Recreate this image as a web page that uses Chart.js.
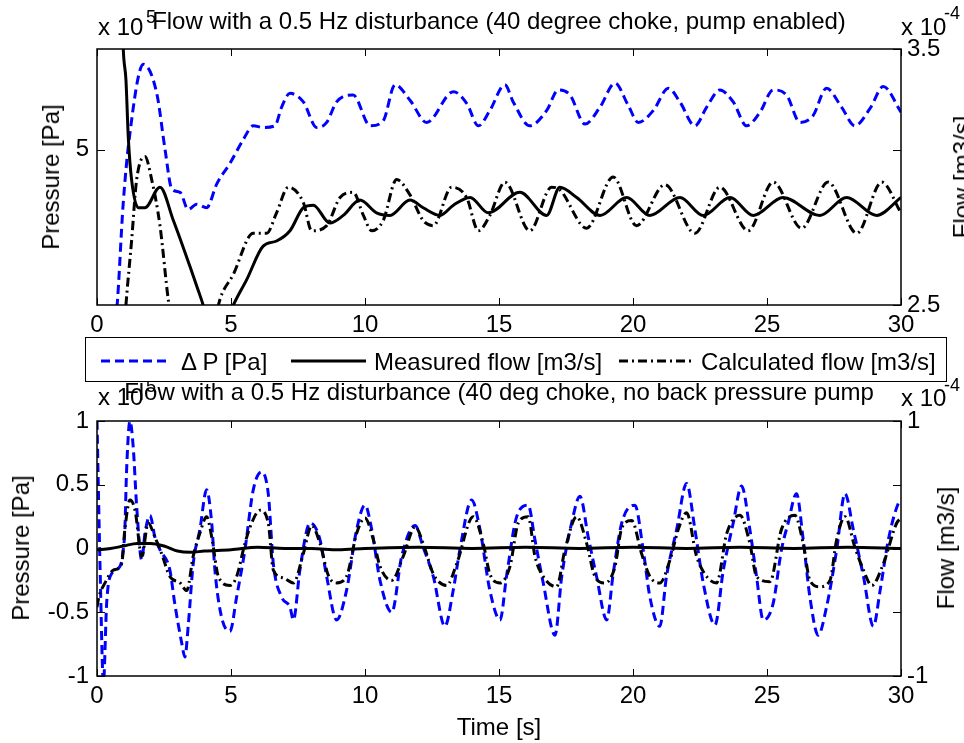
<!DOCTYPE html>
<html>
<head>
<meta charset="utf-8">
<script src="https://cdn.jsdelivr.net/npm/chart.js@4.4.1/dist/chart.umd.min.js"></script>
<style>
  html, body { margin: 0; padding: 0; background: #fff; }
  #wrap { position: relative; width: 964px; height: 743px; overflow: hidden; background: #fff;
          font-family: 'Liberation Sans', Arial, sans-serif; color: #000; }
  canvas { position: absolute; left: 0; }
  .txt { position: absolute; white-space: nowrap; font-size: 24px; line-height: 24px; }
  .sup { position: absolute; white-space: nowrap; font-size: 18px; line-height: 18px; }
  .rot { position: absolute; white-space: nowrap; font-size: 24px; line-height: 24px;
         transform: translate(-50%, -50%) rotate(-90deg); }
  #legend { position: absolute; left: 85px; top: 337px; width: 860px; height: 43px;
            border: 1px solid #000; background: #fff; z-index: 5; }
</style>
</head>
<body>
<div id="wrap">
  <canvas id="topChart" width="964" height="370" style="top:0"></canvas>
  <canvas id="botChart" width="964" height="373" style="top:370px"></canvas>

  <!-- top subplot texts -->
  <div class="txt" style="left:97px;width:804px;top:9px;text-align:center">Flow with a 0.5 Hz disturbance (40 degree choke, pump enabled)</div>
  <div class="txt" style="left:98px;top:15px">x 10</div>
  <div class="sup" style="left:146px;top:8px">5</div>
  <div class="txt" style="left:901px;top:15px">x 10</div>
  <div class="sup" style="left:944px;top:4px">-4</div>
  <div class="rot" style="left:51px;top:177px">Pressure [Pa]</div>
  <div class="rot" style="left:962px;top:177px">Flow [m3/s]</div>

  <!-- bottom subplot texts -->
  <div class="txt" style="left:97px;width:804px;top:380px;text-align:center">Flow with a 0.5 Hz disturbance (40 deg choke, no back pressure pump</div>
  <div class="txt" style="left:98px;top:385px">x 10</div>
  <div class="sup" style="left:146px;top:377px">5</div>
  <div class="txt" style="left:901px;top:386px">x 10</div>
  <div class="sup" style="left:944px;top:376px">-4</div>
  <div class="rot" style="left:21px;top:548px">Pressure [Pa]</div>
  <div class="rot" style="left:946px;top:548px">Flow [m3/s]</div>
  <div class="txt" style="left:97px;width:804px;top:715px;text-align:center">Time [s]</div>

  <div id="legend">
    <svg width="860" height="43" style="position:absolute;left:0;top:0">
      <line x1="15" y1="23" x2="83" y2="23" stroke="#0000ff" stroke-width="3" stroke-dasharray="9 5"/>
      <line x1="205" y1="23" x2="280" y2="23" stroke="#000" stroke-width="3"/>
      <line x1="533" y1="23" x2="605" y2="23" stroke="#000" stroke-width="3" stroke-dasharray="9 4 2 4"/>
    </svg>
    <div class="txt" style="left:95px;top:12px">&Delta; P [Pa]</div>
    <div class="txt" style="left:288px;top:12px">Measured flow [m3/s]</div>
    <div class="txt" style="left:615px;top:12px">Calculated flow [m3/s]</div>
  </div>
</div>

<script>
// Axis ticks
const xTicks = [0, 5, 10, 15, 20, 25, 30];
const topLeftTicks = [5];
const topRightTicks = [2.5, 3.5];
const botLeftTicks = [-1, -0.5, 0, 0.5, 1];
const botRightTicks = [-1, 1];

// Top subplot: pump enabled (pressure x1e5 Pa, flow x1e-4 m3/s)
const topDpTime = [0, 0.73, 0.98, 1.2, 1.73, 2.23, 2.54, 2.79, 3.1, 3.4, 3.72, 4.09, 4.47, 4.96, 5.46, 5.83, 6.2, 6.64, 6.89, 7.2,
    7.7, 8.2, 8.57, 8.94, 9.56, 10.19, 10.68, 11.12, 11.68, 12.3, 13.3, 13.8, 14.23, 14.66, 15.22, 15.53, 16.15, 16.78, 17.21, 17.65,
    18.21, 18.77, 19.33, 19.82, 20.2, 20.76, 21.32, 21.75, 22.31, 22.75, 23.24, 23.74, 24.24, 24.74, 25.23, 25.73, 26.23, 26.72, 27.22, 27.78,
    28.28, 28.84, 29.34, 30];
const topDp = [3.6, 4.05, 4.69, 5.06, 5.50, 5.33, 5.00, 4.77, 4.75, 4.65, 4.68, 4.66, 4.80, 4.92, 5.06, 5.14, 5.13, 5.14, 5.25, 5.33,
    5.28, 5.13, 5.16, 5.28, 5.32, 5.14, 5.17, 5.38, 5.29, 5.16, 5.34, 5.27, 5.14, 5.23, 5.38, 5.28, 5.14, 5.23, 5.35, 5.32,
    5.15, 5.25, 5.39, 5.26, 5.16, 5.23, 5.36, 5.28, 5.14, 5.25, 5.35, 5.28, 5.14, 5.22, 5.35, 5.32, 5.16, 5.20, 5.36, 5.25,
    5.14, 5.24, 5.37, 5.22];

const topMeasTime = [0, 0.9, 0.98, 1.08, 1.17, 1.29, 1.54, 1.79, 2.35, 2.85, 3.47, 3.9, 4.3, 4.7, 5.09, 5.59, 6.2, 6.7, 7.2, 7.7,
    8.07, 8.69, 9.19, 9.81, 10.43, 10.93, 11.68, 12.17, 12.8, 13.3, 13.92, 14.6, 15.78, 16.78, 17.27, 17.9, 18.77, 19.76, 20.63, 21.75,
    22.62, 23.62, 24.49, 25.6, 26.97, 27.97, 29.09, 30];
const topMeas = [4.2, 3.8, 3.50, 3.38, 3.15, 2.99, 2.88, 2.88, 2.96, 2.83, 2.65, 2.52, 2.4, 2.4, 2.5, 2.60, 2.73, 2.75, 2.79, 2.88,
    2.89, 2.82, 2.85, 2.91, 2.86, 2.85, 2.91, 2.88, 2.85, 2.89, 2.92, 2.86, 2.94, 2.85, 2.96, 2.92, 2.85, 2.92, 2.85, 2.92,
    2.85, 2.92, 2.85, 2.92, 2.85, 2.92, 2.85, 2.92];

const topCalcTime = [0, 0.95, 1.08, 1.29, 1.48, 1.79, 2.04, 2.35, 2.66, 3.0, 4.2, 4.53, 5.09, 5.83, 6.33, 6.7, 7.14, 7.7, 8.01, 8.57,
    9.07, 9.56, 9.94, 10.25, 10.68, 11.18, 11.68, 12.17, 12.55, 13.23, 13.79, 14.23, 14.66, 15.22, 16.15, 16.96, 17.27, 18.27, 19.26, 20.13,
    21.19, 22.31, 23.24, 24.3, 25.23, 26.29, 27.28, 28.35, 29.28, 30];
const topCalc = [2.0, 2.3, 2.5, 2.75, 2.99, 3.08, 2.99, 2.81, 2.52, 2.3, 2.3, 2.5, 2.62, 2.78, 2.78, 2.86, 2.96, 2.90, 2.79, 2.81,
    2.92, 2.94, 2.85, 2.79, 2.83, 2.99, 2.93, 2.83, 2.81, 2.96, 2.92, 2.79, 2.85, 2.98, 2.79, 2.96, 2.95, 2.80, 3.00, 2.81,
    2.97, 2.78, 2.96, 2.79, 2.98, 2.80, 2.98, 2.78, 2.98, 2.86];

// Bottom subplot: no back pressure pump
const botDpTime = [0, 0.12, 0.24, 0.36, 0.49, 0.86, 0.98, 1.04, 1.1, 1.23, 1.35, 1.48, 1.67, 1.79, 1.98, 2.16, 2.35, 2.72, 2.9, 3.16,
    3.28, 3.41, 3.59, 3.84, 4.09, 4.28, 4.4, 4.65, 4.96, 5.21, 5.52, 5.83, 6.14, 6.39, 6.58, 6.89, 7.2, 7.33, 7.57, 7.95,
    8.32, 8.57, 8.94, 9.31, 9.69, 10.0, 10.25, 10.56, 11.0, 11.37, 11.87, 12.17, 12.55, 12.98, 13.29, 13.54, 13.98, 14.29, 14.66, 15.04,
    15.28, 15.66, 16.09, 16.34, 16.65, 17.09, 17.34, 17.71, 18.02, 18.33, 18.64, 19.02, 19.26, 19.58, 20.07, 20.38, 20.63, 21.0, 21.25, 21.63,
    22.0, 22.31, 22.62, 23.06, 23.37, 23.74, 24.05, 24.36, 24.61, 24.86, 25.23, 25.54, 25.79, 26.1, 26.35, 26.6, 26.91, 27.22, 27.6, 27.91,
    28.22, 28.6, 28.97, 29.22, 29.53, 29.91, 30];
const botDp = [1.0, -0.2, -1.05, -0.43, -0.22, -0.14, -0.01, 0.15, 0.59, 1.0, 0.80, 0.33, -0.09, 0.12, 0.26, 0.09, -0.01, -0.17, -0.43, -0.74,
    -0.85, -0.59, -0.12, 0.15, 0.46, 0.20, -0.17, -0.54, -0.65, -0.38, -0.01, 0.46, 0.60, 0.43, -0.12, -0.38, -0.46, -0.56, -0.17, 0.20,
    0.07, -0.22, -0.56, -0.33, 0.15, 0.34, 0.15, -0.25, -0.50, -0.06, 0.18, 0.01, -0.22, -0.61, -0.33, -0.01, 0.38, 0.15, -0.33, -0.56,
    -0.22, 0.25, 0.34, 0.07, -0.27, -0.68, -0.22, 0.20, 0.41, 0.09, -0.22, -0.56, -0.20, 0.20, 0.34, -0.01, -0.38, -0.61, -0.22, 0.15,
    0.51, 0.15, -0.27, -0.60, -0.17, 0.20, 0.49, 0.15, -0.22, -0.56, -0.43, -0.01, 0.20, 0.43, 0.07, -0.38, -0.68, -0.46, -0.01, 0.43,
    0.15, -0.22, -0.61, -0.33, 0.07, 0.36, 0.38];

const botMeasTime = [0, 0.5, 1.0, 1.5, 2.0, 2.5, 3.0, 3.5, 4.0, 5.0, 6.0, 7.0, 8.0, 9.0, 10.0, 12.0, 14.0, 16.0, 18.0, 20.0,
    22.0, 24.0, 26.0, 28.0, 30.0];
const botMeas = [-0.01, 0.0, 0.02, 0.04, 0.04, 0.02, -0.02, -0.03, -0.02, -0.01, 0.01, 0.0, 0.0, -0.01, 0.0, 0.01, 0.0, 0.01, 0.0, 0.01,
    0.0, 0.01, 0.0, 0.01, 0.0];

const botCalcTime = [0, 0.07, 0.3, 0.61, 0.92, 1.04, 1.23, 1.42, 1.67, 1.91, 2.16, 2.41, 2.72, 3.1, 3.35, 3.59, 3.84, 4.09, 4.28, 4.53,
    4.96, 5.21, 5.52, 5.77, 6.08, 6.39, 6.58, 6.95, 7.33, 7.7, 8.01, 8.32, 8.63, 8.94, 9.31, 9.69, 10.0, 10.31, 10.56, 11.0,
    11.43, 11.87, 12.17, 12.55, 13.05, 13.42, 14.04, 14.41, 14.66, 15.04, 15.41, 15.72, 16.09, 16.34, 16.65, 17.15, 17.46, 17.9, 18.27, 18.58,
    18.96, 19.33, 19.58, 19.95, 20.32, 20.63, 21.0, 21.38, 21.69, 22.0, 22.37, 22.75, 23.12, 23.5, 23.99, 24.36, 24.61, 25.11, 25.54, 26.04,
    26.35, 26.6, 26.97, 27.35, 27.6, 27.91, 28.28, 28.6, 28.91, 29.34, 29.84, 30];
const botCalc = [-0.46, -0.38, -0.27, -0.17, -0.12, 0.15, 0.38, 0.30, -0.06, 0.20, 0.09, -0.04, -0.22, -0.27, -0.33, -0.06, 0.12, 0.25, 0.09, -0.22,
    -0.29, -0.22, 0.04, 0.20, 0.30, 0.20, -0.17, -0.23, -0.27, -0.04, 0.18, 0.04, -0.21, -0.27, -0.22, 0.12, 0.24, 0.07, -0.14, -0.25,
    -0.06, 0.17, 0.04, -0.20, -0.29, -0.12, 0.25, 0.04, -0.20, -0.27, -0.14, 0.20, 0.25, -0.06, -0.22, -0.30, -0.01, 0.25, 0.04, -0.22,
    -0.27, -0.14, 0.16, 0.22, -0.04, -0.22, -0.27, -0.09, 0.15, 0.28, -0.06, -0.22, -0.27, 0.12, 0.26, 0.04, -0.22, -0.26, 0.15, 0.26,
    0.04, -0.25, -0.30, -0.25, 0.07, 0.25, 0.01, -0.17, -0.29, -0.12, 0.20, 0.24];

const FONT = { family: "'Liberation Sans', Arial, sans-serif", size: 24 };

function pairs(xs, ys) {
    return xs.map((x, i) => ({ x: x, y: ys[i] }));
}

// Box round the axes with MATLAB style inward ticks
const matlabAxes = {
    id: 'matlabAxes',
    afterDatasetsDraw(chart) {
        const { ctx, chartArea: a, scales } = chart;
        ctx.save();
        ctx.strokeStyle = '#000';
        ctx.lineWidth = 1;
        ctx.beginPath();
        scales.x.ticks.forEach(t => {
            const px = Math.round(scales.x.getPixelForValue(t.value)) + 0.5;
            ctx.moveTo(px, a.bottom); ctx.lineTo(px, a.bottom - 7);
            ctx.moveTo(px, a.top); ctx.lineTo(px, a.top + 7);
        });
        scales.y.ticks.forEach(t => {
            const py = Math.round(scales.y.getPixelForValue(t.value)) + 0.5;
            ctx.moveTo(a.left, py); ctx.lineTo(a.left + 8, py);
            ctx.moveTo(a.right, py); ctx.lineTo(a.right - 8, py);
        });
        scales.y1.ticks.forEach(t => {
            const py = Math.round(scales.y1.getPixelForValue(t.value)) + 0.5;
            ctx.moveTo(a.right, py); ctx.lineTo(a.right - 8, py);
        });
        ctx.stroke();
        ctx.lineWidth = 1.5;
        ctx.strokeRect(a.left, a.top, a.right - a.left, a.bottom - a.top);
        ctx.restore();
    }
};

function makeChart(id, opts) {
    const ctx = document.getElementById(id).getContext('2d');
    return new Chart(ctx, {
        type: 'line',
        data: {
            datasets: [{
                label: 'Measured flow [m3/s]',
                data: opts.meas,
                yAxisID: 'y1',
                borderColor: '#000000',
                borderWidth: 3,
                order: 1
            }, {
                label: 'Calculated flow [m3/s]',
                data: opts.calc,
                yAxisID: 'y1',
                borderColor: '#000000',
                borderWidth: 3,
                borderDash: [9, 4, 2, 4],
                order: 2
            }, {
                label: '\u0394 P [Pa]',
                data: opts.dp,
                yAxisID: 'y',
                borderColor: '#0000ff',
                borderWidth: 3,
                borderDash: [9, 5],
                order: 3
            }]
        },
        options: {
            responsive: false,
            animation: false,
            devicePixelRatio: 1,
            events: [],
            elements: {
                point: { radius: 0 },
                line: { cubicInterpolationMode: 'monotone', fill: false }
            },
            layout: { padding: { top: opts.padTop, left: 0, right: 0, bottom: 0 } },
            plugins: { legend: { display: false }, tooltip: { enabled: false } },
            scales: {
                x: {
                    type: 'linear', min: 0, max: 30,
                    grid: { display: false, drawTicks: false },
                    border: { display: false },
                    afterBuildTicks: s => { s.ticks = xTicks.map(v => ({ value: v })); },
                    afterFit: s => { s.height = opts.xHeight; },
                    ticks: { font: FONT, color: '#000', padding: 6, maxRotation: 0, autoSkip: false }
                },
                y: {
                    type: 'linear', position: 'left', min: opts.yMin, max: opts.yMax,
                    grid: { display: false, drawTicks: false },
                    border: { display: false },
                    afterBuildTicks: s => { s.ticks = opts.yTicks.map(v => ({ value: v })); },
                    afterFit: s => { s.width = 97; },
                    ticks: { font: FONT, color: '#000', padding: 8, callback: v => String(v) }
                },
                y1: {
                    type: 'linear', position: 'right', min: opts.y1Min, max: opts.y1Max,
                    grid: { display: false, drawTicks: false },
                    border: { display: false },
                    afterBuildTicks: s => { s.ticks = opts.y1Ticks.map(v => ({ value: v })); },
                    afterFit: s => { s.width = 63; },
                    ticks: { font: FONT, color: '#000', padding: 6, callback: v => String(v) }
                }
            }
        },
        plugins: [matlabAxes]
    });
}

document.addEventListener('DOMContentLoaded', () => {
    makeChart('topChart', {
        dp: pairs(topDpTime, topDp),
        meas: pairs(topMeasTime, topMeas),
        calc: pairs(topCalcTime, topCalc),
        yMin: 4.09, yMax: 5.59, yTicks: topLeftTicks,
        y1Min: 2.5, y1Max: 3.5, y1Ticks: topRightTicks,
        padTop: 49, xHeight: 65
    });
    makeChart('botChart', {
        dp: pairs(botDpTime, botDp),
        meas: pairs(botMeasTime, botMeas),
        calc: pairs(botCalcTime, botCalc),
        yMin: -1, yMax: 1, yTicks: botLeftTicks,
        y1Min: -1, y1Max: 1, y1Ticks: botRightTicks,
        padTop: 51, xHeight: 67
    });
});
</script>
</body>
</html>
